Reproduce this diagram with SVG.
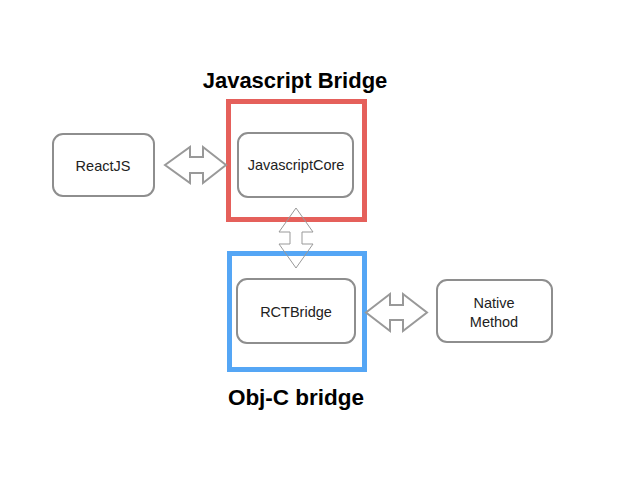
<svg xmlns="http://www.w3.org/2000/svg" width="638" height="479" viewBox="0 0 638 479">
<style>
.node rect{fill:#fff;stroke:#8e8e8e;stroke-width:2}
.node text{font-family:"Liberation Sans",Arial,sans-serif;font-size:14.5px;fill:#222;text-anchor:middle}
.title{font-family:"Liberation Sans",Arial,sans-serif;font-weight:bold;fill:#000;text-anchor:middle}
.frame{fill:none;stroke-width:5}
.arrow{fill:none;stroke:#999;stroke-linejoin:miter}
</style>
<rect width="638" height="479" fill="#fff"/>
<g id="js-bridge">
<rect class="frame" x="228.5" y="101.5" width="136" height="118" stroke="#e5605b"/>
<text class="title" x="295" y="88" font-size="22">Javascript Bridge</text>
</g>
<g id="objc-bridge">
<rect class="frame" x="229.5" y="253.5" width="135" height="116" stroke="#55a6f5"/>
<text class="title" x="296" y="405" font-size="22.5">Obj-C bridge</text>
</g>
<g id="reactjs" class="node">
<rect x="53" y="134" width="101" height="62" rx="10"/>
<text x="103" y="171">ReactJS</text>
</g>
<g id="javascriptcore" class="node">
<rect x="238" y="133" width="115" height="64" rx="10"/>
<text x="296" y="170">JavascriptCore</text>
</g>
<g id="rctbridge" class="node">
<rect x="237" y="279" width="118" height="64" rx="10"/>
<text x="296" y="317">RCTBridge</text>
</g>
<g id="native-method" class="node">
<rect x="437" y="280" width="115" height="62" rx="10"/>
<text x="494" y="308">Native</text>
<text x="494" y="327">Method</text>
</g>
<g id="connectors">
<polygon class="arrow" stroke-width="2" points="165,165 190,147 190,157 203,157 203,147 226,165 203,183 203,173 190,173 190,183"/>
<polygon class="arrow" stroke-width="2" points="366,312.5 390,294 390,305 403,305 403,294 427,312.5 403,331 403,320 390,320 390,331"/>
<polygon class="arrow" stroke-width="1" points="296,208 313,232 302,232 302,244 313,244 296,268 279,244 290,244 290,232 279,232"/>
</g>
</svg>
